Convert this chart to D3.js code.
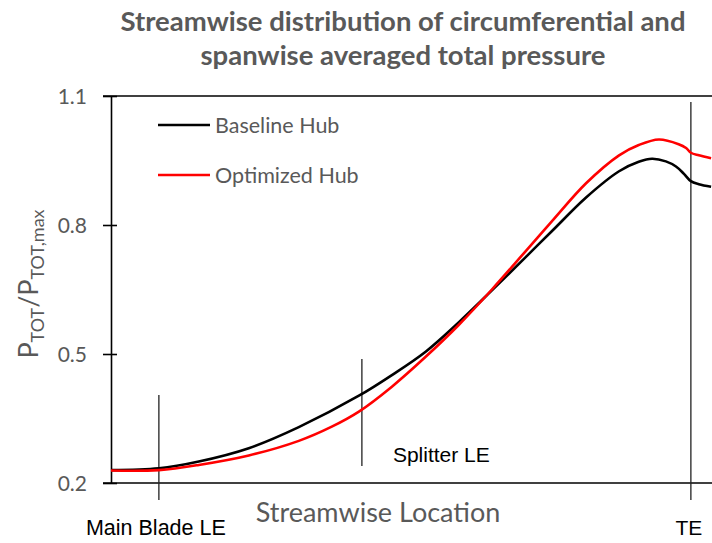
<!DOCTYPE html>
<html>
<head>
<meta charset="utf-8">
<script src="https://cdn.jsdelivr.net/npm/d3@7"></script>
<style>
  html, body { margin: 0; padding: 0; background: #fff; }
  svg { display: block; }
</style>
</head>
<body>
<svg id="chart" width="712" height="543"></svg>
<script>
// Streamwise location, normalised so that Main Blade LE = 0 and TE = 1
const baselineX = [-0.092, 0, 0.075, 0.169, 0.263, 0.376, 0.438, 0.502, 0.564, 0.626, 0.690, 0.739, 0.803, 0.865, 0.902, 0.927, 0.953, 0.972, 0.987, 1.000, 1.015, 1.038];
const baselineY = [0.230, 0.234, 0.250, 0.281, 0.330, 0.403, 0.451, 0.506, 0.574, 0.648, 0.726, 0.786, 0.864, 0.925, 0.947, 0.954, 0.948, 0.936, 0.919, 0.902, 0.895, 0.889];

const optimizedX = [-0.092, 0, 0.075, 0.169, 0.263, 0.325, 0.376, 0.438, 0.502, 0.564, 0.626, 0.690, 0.739, 0.803, 0.865, 0.902, 0.940, 0.977, 0.991, 1.000, 1.015, 1.038];
const optimizedY = [0.229, 0.230, 0.242, 0.264, 0.298, 0.331, 0.366, 0.424, 0.494, 0.568, 0.650, 0.740, 0.809, 0.897, 0.962, 0.986, 0.999, 0.988, 0.979, 0.968, 0.962, 0.955];

const yTicks = [0.2, 0.5, 0.8, 1.1];
const markers = [
  { name: "Main Blade LE", x: 0 },
  { name: "Splitter LE", x: 0.3816 },
  { name: "TE", x: 1 }
];
const seriesNames = ["Baseline Hub", "Optimized Hub"];
const seriesColors = ["#000000", "#ff0000"];

const svg = d3.select("#chart");
const grey = "#595959";
const calibriLike = "Lato, 'Open Sans', sans-serif";
const arialLike = "'Liberation Sans', Arial, sans-serif";

const plotLeft = 111, plotTop = 96, plotBottom = 483;
const x = d3.scaleLinear().domain([-0.09, 1.05]).range([plotLeft, plotLeft + 1.14 * 532]);
const y = d3.scaleLinear().domain([0.2, 1.1]).range([plotBottom, plotTop]);

// Title
const title = svg.append("text")
  .attr("x", 403).attr("text-anchor", "middle")
  .attr("font-family", calibriLike).attr("font-weight", "bold")
  .attr("font-size", 27.5).attr("fill", grey);
title.append("tspan").attr("x", 403).attr("y", 31).text("Streamwise distribution of circumferential and");
title.append("tspan").attr("x", 403).attr("y", 65).text("spanwise averaged total pressure");

// Clip for plot content
svg.append("defs").append("clipPath").attr("id", "plotClip")
  .append("rect").attr("x", plotLeft).attr("y", plotTop - 10).attr("width", 712 - plotLeft).attr("height", plotBottom - plotTop + 10);

// Frame: top edge and bottom axis
svg.append("line").attr("x1", plotLeft - 8).attr("x2", 712).attr("y1", plotTop).attr("y2", plotTop)
  .attr("stroke", "#000").attr("stroke-width", 1.6);
svg.append("line").attr("x1", plotLeft - 8).attr("x2", 712).attr("y1", plotBottom).attr("y2", plotBottom)
  .attr("stroke", "#000").attr("stroke-width", 1.6);

// Y axis with crossing ticks
const yAxis = d3.axisLeft(y).tickValues(yTicks).tickFormat(d3.format(".1f")).tickSizeOuter(0).tickSizeInner(0).tickPadding(0);
const yg = svg.append("g").attr("transform", `translate(${plotLeft},0)`).call(yAxis);
yg.select(".domain").attr("stroke", "#000").attr("stroke-width", 1.6);
yg.selectAll(".tick line").remove();
yg.selectAll(".tick").append("line")
  .attr("x1", -8).attr("x2", 6).attr("stroke", "#000").attr("stroke-width", 1.6);
yg.selectAll(".tick text")
  .attr("x", -24).attr("dy", "0.35em")
  .attr("font-family", calibriLike).attr("font-size", 21).attr("fill", grey);

// Location markers
const mg = svg.append("g");
const markerSpans = { "Main Blade LE": [395, 500], "Splitter LE": [359, 466], "TE": [102, 500] };
markers.forEach(m => {
  const [y1, y2] = markerSpans[m.name];
  mg.append("line").attr("x1", x(m.x)).attr("x2", x(m.x)).attr("y1", y1).attr("y2", y2)
    .attr("stroke", "#222").attr("stroke-width", 1.3);
});
mg.append("text").attr("x", x(0) - 3).attr("y", 535).attr("text-anchor", "middle")
  .attr("font-family", arialLike).attr("font-size", 21.5).attr("fill", "#000").text("Main Blade LE");
mg.append("text").attr("x", x(0.3816) + 31).attr("y", 462)
  .attr("font-family", arialLike).attr("font-size", 21).attr("fill", "#000").text("Splitter LE");
mg.append("text").attr("x", x(1) - 2).attr("y", 535).attr("text-anchor", "middle")
  .attr("font-family", arialLike).attr("font-size", 21).attr("fill", "#000").text("TE");

// Series lines
const line = d3.line().x(d => x(d[0])).y(d => y(d[1])).curve(d3.curveCatmullRom.alpha(0.5));
const series = [
  d3.zip(baselineX, baselineY),
  d3.zip(optimizedX, optimizedY)
];
const lg = svg.append("g").attr("clip-path", "url(#plotClip)");
series.forEach((pts, i) => {
  lg.append("path").datum(pts).attr("d", line)
    .attr("fill", "none").attr("stroke", seriesColors[i]).attr("stroke-width", 2.6)
    .attr("stroke-linejoin", "round");
});

// Axis titles
svg.append("text").attr("x", 378).attr("y", 522).attr("text-anchor", "middle")
  .attr("font-family", calibriLike).attr("font-size", 27).attr("fill", grey).text("Streamwise Location");

const yt = svg.append("text").attr("transform", "translate(38,284) rotate(-90)")
  .attr("text-anchor", "middle").attr("font-family", calibriLike).attr("fill", grey).attr("font-size", 27);
yt.append("tspan").text("P");
yt.append("tspan").attr("font-size", 18).attr("dy", 6).text("TOT");
yt.append("tspan").attr("dy", -6).text("/P");
yt.append("tspan").attr("font-size", 18).attr("dy", 6).text("TOT,max");

// Legend
const leg = svg.append("g");
seriesNames.forEach((name, i) => {
  const ly = 125 + i * 50;
  leg.append("line").attr("x1", 158).attr("x2", 210).attr("y1", ly).attr("y2", ly)
    .attr("stroke", seriesColors[i]).attr("stroke-width", 2.5);
  leg.append("text").attr("x", 215).attr("y", ly).attr("dy", "0.35em")
    .attr("font-family", calibriLike).attr("font-size", 21.5).attr("fill", grey).text(name);
});
</script>
</body>
</html>
